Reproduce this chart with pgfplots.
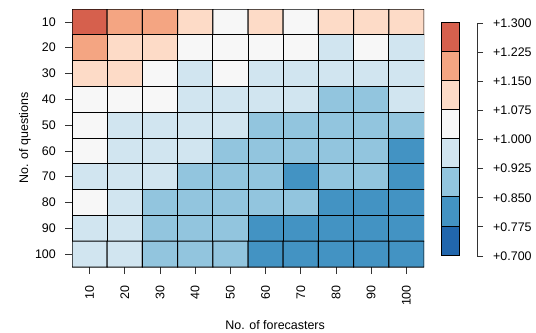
\documentclass[border=0pt]{standalone}
\usepackage{pgfplots}
\usepackage{pgfplotstable}
\pgfplotsset{compat=1.18}
\usepackage{fontspec}
\setmainfont{Liberation Sans}

% RdBu classes, one per 0.075-wide bin from 0.700 to 1.300
\definecolor{rb1}{HTML}{2166AC}
\definecolor{rb2}{HTML}{4393C3}
\definecolor{rb3}{HTML}{92C5DE}
\definecolor{rb4}{HTML}{D1E5F0}
\definecolor{rb5}{HTML}{F7F7F7}
\definecolor{rb6}{HTML}{FDDBC7}
\definecolor{rb7}{HTML}{F4A582}
\definecolor{rb8}{HTML}{D6604D}

\pgfplotsset{/pgf/number format/assume math mode=true}

% x = no. of forecasters, y = no. of questions, v = ratio
\pgfplotstableread{
x y v
10 10 1.26
20 10 1.19
30 10 1.19
40 10 1.11
50 10 1.04
60 10 1.11
70 10 1.04
80 10 1.11
90 10 1.11
100 10 1.11
10 20 1.19
20 20 1.11
30 20 1.11
40 20 1.04
50 20 1.04
60 20 1.04
70 20 1.04
80 20 0.96
90 20 1.04
100 20 0.96
10 30 1.11
20 30 1.11
30 30 1.04
40 30 0.96
50 30 1.04
60 30 0.96
70 30 0.96
80 30 0.96
90 30 0.96
100 30 0.96
10 40 1.04
20 40 1.04
30 40 1.04
40 40 0.96
50 40 0.96
60 40 0.96
70 40 0.96
80 40 0.89
90 40 0.89
100 40 0.96
10 50 1.04
20 50 0.96
30 50 0.96
40 50 0.96
50 50 0.96
60 50 0.89
70 50 0.89
80 50 0.89
90 50 0.89
100 50 0.89
10 60 1.04
20 60 0.96
30 60 0.96
40 60 0.96
50 60 0.89
60 60 0.89
70 60 0.89
80 60 0.89
90 60 0.89
100 60 0.81
10 70 0.96
20 70 0.96
30 70 0.96
40 70 0.89
50 70 0.89
60 70 0.89
70 70 0.81
80 70 0.89
90 70 0.89
100 70 0.81
10 80 1.04
20 80 0.96
30 80 0.89
40 80 0.89
50 80 0.89
60 80 0.89
70 80 0.89
80 80 0.81
90 80 0.81
100 80 0.81
10 90 0.96
20 90 0.96
30 90 0.89
40 90 0.89
50 90 0.89
60 90 0.81
70 90 0.81
80 90 0.81
90 90 0.81
100 90 0.81
10 100 0.96
20 100 0.96
30 100 0.89
40 100 0.89
50 100 0.89
60 100 0.81
70 100 0.81
80 100 0.81
90 100 0.81
100 100 0.81
}\ratiotable

\begin{document}
\begin{tikzpicture}[font=\fontsize{12.5}{15}\selectfont]
\path (0,0) rectangle (536bp,333bp);

% heat map
\begin{axis}[
  at={(72bp,66bp)}, anchor=south west,
  scale only axis, width=352bp, height=258bp,
  xmin=5, xmax=105, ymin=5, ymax=105, y dir=reverse,
  axis line style={draw=none},
  xtick={10,20,...,100}, ytick={10,20,...,100},
  xtick pos=lower, ytick pos=left, tick align=outside,
  major tick length=7bp,
  tick style={black!80, line width=0.8bp},
  xticklabel style={yshift=-11bp, rotate=90, anchor=east, inner sep=0pt},
  yticklabel style={xshift=-9bp, anchor=east, inner sep=0pt},
  colormap={rdbu8}{color=(rb1) color=(rb2) color=(rb3) color=(rb4)
    color=(rb5) color=(rb6) color=(rb7) color=(rb8)},
  colormap access=piecewise constant,
  point meta min=0.7, point meta max=1.3,
  xlabel={No. of forecasters},
  ylabel={No. of questions},
  xlabel style={at={(axis description cs:0.577,0)}, anchor=base, yshift=-62bp, inner sep=0pt},
  ylabel style={at={(axis description cs:-0.125,0.5)}, anchor=base, inner sep=0pt},
]
\addplot[matrix plot*, mesh/cols=10, point meta=explicit,
  shader=faceted, faceted color=black, line width=1bp] table[meta=v]{\ratiotable};
\end{axis}

% colour key
\begin{axis}[
  at={(441.7bp,78bp)}, anchor=south west,
  scale only axis, width=17.6bp, height=233bp,
  xmin=0, xmax=1, ymin=0.7, ymax=1.3,
  hide axis, clip=false,
]
\addplot[draw=black, line width=0.7bp, fill=rb1] coordinates {(0,0.700) (1,0.700) (1,0.775) (0,0.775)} -- cycle;
\addplot[draw=black, line width=0.7bp, fill=rb2] coordinates {(0,0.775) (1,0.775) (1,0.850) (0,0.850)} -- cycle;
\addplot[draw=black, line width=0.7bp, fill=rb3] coordinates {(0,0.850) (1,0.850) (1,0.925) (0,0.925)} -- cycle;
\addplot[draw=black, line width=0.7bp, fill=rb4] coordinates {(0,0.925) (1,0.925) (1,1.000) (0,1.000)} -- cycle;
\addplot[draw=black, line width=0.7bp, fill=rb5] coordinates {(0,1.000) (1,1.000) (1,1.075) (0,1.075)} -- cycle;
\addplot[draw=black, line width=0.7bp, fill=rb6] coordinates {(0,1.075) (1,1.075) (1,1.150) (0,1.150)} -- cycle;
\addplot[draw=black, line width=0.7bp, fill=rb7] coordinates {(0,1.150) (1,1.150) (1,1.225) (0,1.225)} -- cycle;
\addplot[draw=black, line width=0.7bp, fill=rb8] coordinates {(0,1.225) (1,1.225) (1,1.300) (0,1.300)} -- cycle;
\end{axis}

% key scale
\begin{axis}[
  at={(477bp,77bp)}, anchor=south east,
  scale only axis, width=1bp, height=233bp,
  xmin=0, xmax=1, ymin=0.7, ymax=1.3,
  axis x line=none, axis y line*=right,
  axis line style={-, black!80, line width=0.8bp},
  ytick={0.7,0.775,0.85,0.925,1.0,1.075,1.15,1.225,1.3},
  tick align=outside, major tick length=6bp,
  tick style={black!80, line width=0.8bp},
  yticklabel style={xshift=10bp, anchor=west, inner sep=0pt,
    /pgf/number format/fixed, /pgf/number format/fixed zerofill,
    /pgf/number format/precision=3, /pgf/number format/showpos},
]
\end{axis}
\end{tikzpicture}
\end{document}
